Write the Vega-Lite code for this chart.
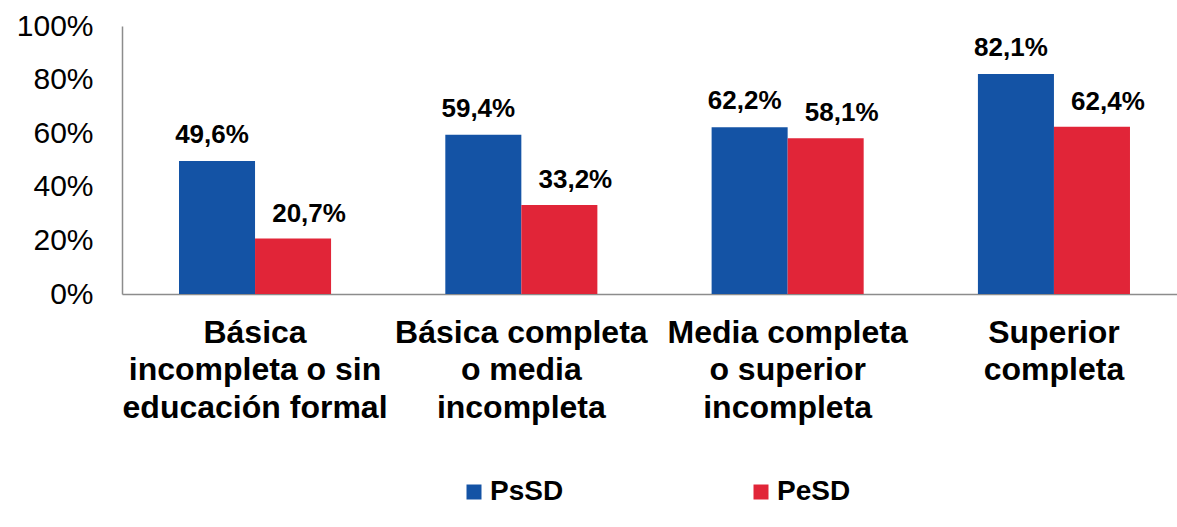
{
  "$schema": "https://vega.github.io/schema/vega-lite/v6.json",
  "width": 1055,
  "height": 268,
  "autosize": {"type": "none"},
  "padding": {"left": 122, "top": 26, "right": 0, "bottom": 233},
  "background": "white",
  "config": {
    "view": {"stroke": null},
    "font": "Liberation Sans",
    "locale": {"number": {"decimal": ",", "thousands": ".", "grouping": [3], "currency": ["", " €"]}}
  },
  "data": {
    "values": [
      {"nivel": "Básica incompleta o sin educación formal", "grupo": "PsSD", "valor": 0.496},
      {"nivel": "Básica incompleta o sin educación formal", "grupo": "PeSD", "valor": 0.207},
      {"nivel": "Básica completa o media incompleta", "grupo": "PsSD", "valor": 0.594},
      {"nivel": "Básica completa o media incompleta", "grupo": "PeSD", "valor": 0.332},
      {"nivel": "Media completa o superior incompleta", "grupo": "PsSD", "valor": 0.622},
      {"nivel": "Media completa o superior incompleta", "grupo": "PeSD", "valor": 0.581},
      {"nivel": "Superior completa", "grupo": "PsSD", "valor": 0.821},
      {"nivel": "Superior completa", "grupo": "PeSD", "valor": 0.624}
    ]
  },
  "encoding": {
    "x": {
      "field": "nivel", "type": "nominal", "sort": null,
      "scale": {"paddingInner": 0.429, "paddingOuter": 0.1953, "align": 0.548},
      "axis": {
        "title": null, "labelAngle": 0, "ticks": false,
        "domainColor": "#8c8c8c", "domainWidth": 1.5,
        "labelFontSize": 32, "labelFontWeight": "bold", "labelColor": "#000000",
        "labelBaseline": "top", "labelPadding": 23, "labelLineHeight": 37.5, "labelLimit": 0,
        "labelExpr": "datum.label == 'Básica incompleta o sin educación formal' ? ['Básica', 'incompleta o sin', 'educación formal'] : datum.label == 'Básica completa o media incompleta' ? ['Básica completa', 'o media', 'incompleta'] : datum.label == 'Media completa o superior incompleta' ? ['Media completa', 'o superior', 'incompleta'] : ['Superior', 'completa']"
      }
    },
    "xOffset": {"field": "grupo", "type": "nominal", "sort": ["PsSD", "PeSD"], "scale": {"paddingInner": 0, "paddingOuter": 0}},
    "y": {
      "field": "valor", "type": "quantitative",
      "scale": {"domain": [0, 1]},
      "axis": {
        "title": null, "grid": false, "ticks": false,
        "values": [0, 0.2, 0.4, 0.6, 0.8, 1], "format": ".0%",
        "domainColor": "#8c8c8c", "domainWidth": 1.5,
        "labelFontSize": 30, "labelColor": "#000000", "labelPadding": 29
      }
    }
  },
  "layer": [
    {
      "mark": {"type": "bar"},
      "encoding": {
        "color": {
          "field": "grupo", "type": "nominal", "sort": ["PsSD", "PeSD"],
          "scale": {"domain": ["PsSD", "PeSD"], "range": ["#1453A5", "#E12538"]},
          "legend": {
            "title": null, "orient": "none", "direction": "horizontal",
            "legendX": 338, "legendY": 452,
            "symbolType": "square", "symbolSize": 225, "symbolStrokeWidth": 0,
            "labelFontSize": 28, "labelFontWeight": "bold", "labelColor": "#000000",
            "labelOffset": 2, "columnPadding": 183
          }
        }
      }
    },
    {
      "transform": [{"filter": "datum.grupo == 'PsSD'"}],
      "mark": {"type": "text", "fontSize": 26, "fontWeight": "bold", "dy": -18, "dx": -5, "baseline": "alphabetic", "color": "#000000"},
      "encoding": {"text": {"field": "valor", "type": "quantitative", "format": ".1%"}}
    },
    {
      "transform": [{"filter": "datum.grupo == 'PeSD'"}],
      "mark": {"type": "text", "fontSize": 26, "fontWeight": "bold", "dy": -17, "dx": 16, "baseline": "alphabetic", "color": "#000000"},
      "encoding": {"text": {"field": "valor", "type": "quantitative", "format": ".1%"}}
    }
  ]
}
